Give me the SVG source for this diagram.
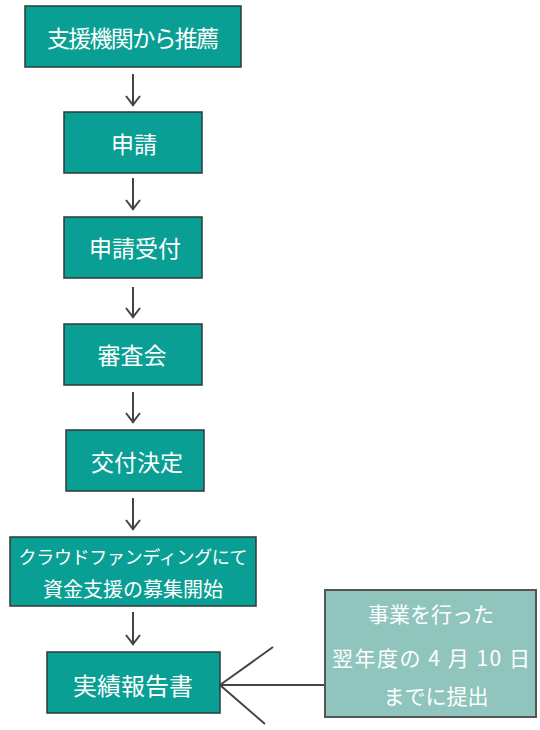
<svg xmlns="http://www.w3.org/2000/svg" width="540" height="730" viewBox="0 0 540 730">
<defs>
<style>
.box{fill:#0a9f94;stroke:#2f3a38;stroke-width:1.5}
.call{fill:#8fc5bd;stroke:#555;stroke-width:2}
.t{fill:#fff;font-family:"Noto Sans CJK JP","Noto Sans CJK SC",sans-serif;font-size:23px;text-anchor:middle;dominant-baseline:central}
.ln{stroke:#444;stroke-width:2;fill:none}
</style>
</defs>
<rect width="540" height="730" fill="#fff"/>
<g id="connectors">
<path class="ln" d="M133 74 V106"/>
<path class="ln" d="M126 96 L133 105 L140 96"/>
<path class="ln" d="M133 178 V210"/>
<path class="ln" d="M126 200 L133 209 L140 200"/>
<path class="ln" d="M133 287 V318"/>
<path class="ln" d="M126 308 L133 317 L140 308"/>
<path class="ln" d="M133 392 V423"/>
<path class="ln" d="M126 413 L133 422 L140 413"/>
<path class="ln" d="M133 498 V530"/>
<path class="ln" d="M126 520 L133 529 L140 520"/>
<path class="ln" d="M133 612 V645"/>
<path class="ln" d="M126 635 L133 644 L140 635"/>
<path class="ln" d="M273 647 L220 685 L265 724 M220 685 H325"/>
</g>
<g id="n1"><rect class="box" x="25" y="6" width="216" height="61"/><text class="t" x="133" y="37" textLength="172">支援機関から推薦</text></g>
<g id="n2"><rect class="box" x="64" y="112" width="138" height="61"/><text class="t" x="134" y="143">申請</text></g>
<g id="n3"><rect class="box" x="64" y="217" width="138" height="61"/><text class="t" x="135" y="247">申請受付</text></g>
<g id="n4"><rect class="box" x="64" y="324" width="138" height="61"/><text class="t" x="132" y="354">審査会</text></g>
<g id="n5"><rect class="box" x="66" y="430" width="138" height="61"/><text class="t" x="137" y="461">交付決定</text></g>
<g id="n6"><rect class="box" x="10" y="537" width="246" height="69"/><text class="t" x="133" y="556" style="font-size:18px" textLength="229">クラウドファンディングにて</text><text class="t" x="133" y="588" style="font-size:20px" textLength="180">資金支援の募集開始</text></g>
<g id="n7"><rect class="box" x="47" y="652" width="173" height="61"/><text class="t" x="133" y="684" style="font-size:24px" textLength="120">実績報告書</text></g>
<g id="n8"><rect class="call" x="325" y="590" width="211" height="127"/>
<text class="t" x="431" y="613" style="font-size:21px">事業を行った</text>
<text class="t" x="431" y="657" style="font-size:21px" textLength="198">翌年度の 4 月 10 日</text>
<text class="t" x="436" y="695" style="font-size:21px">までに提出</text></g>
</svg>
